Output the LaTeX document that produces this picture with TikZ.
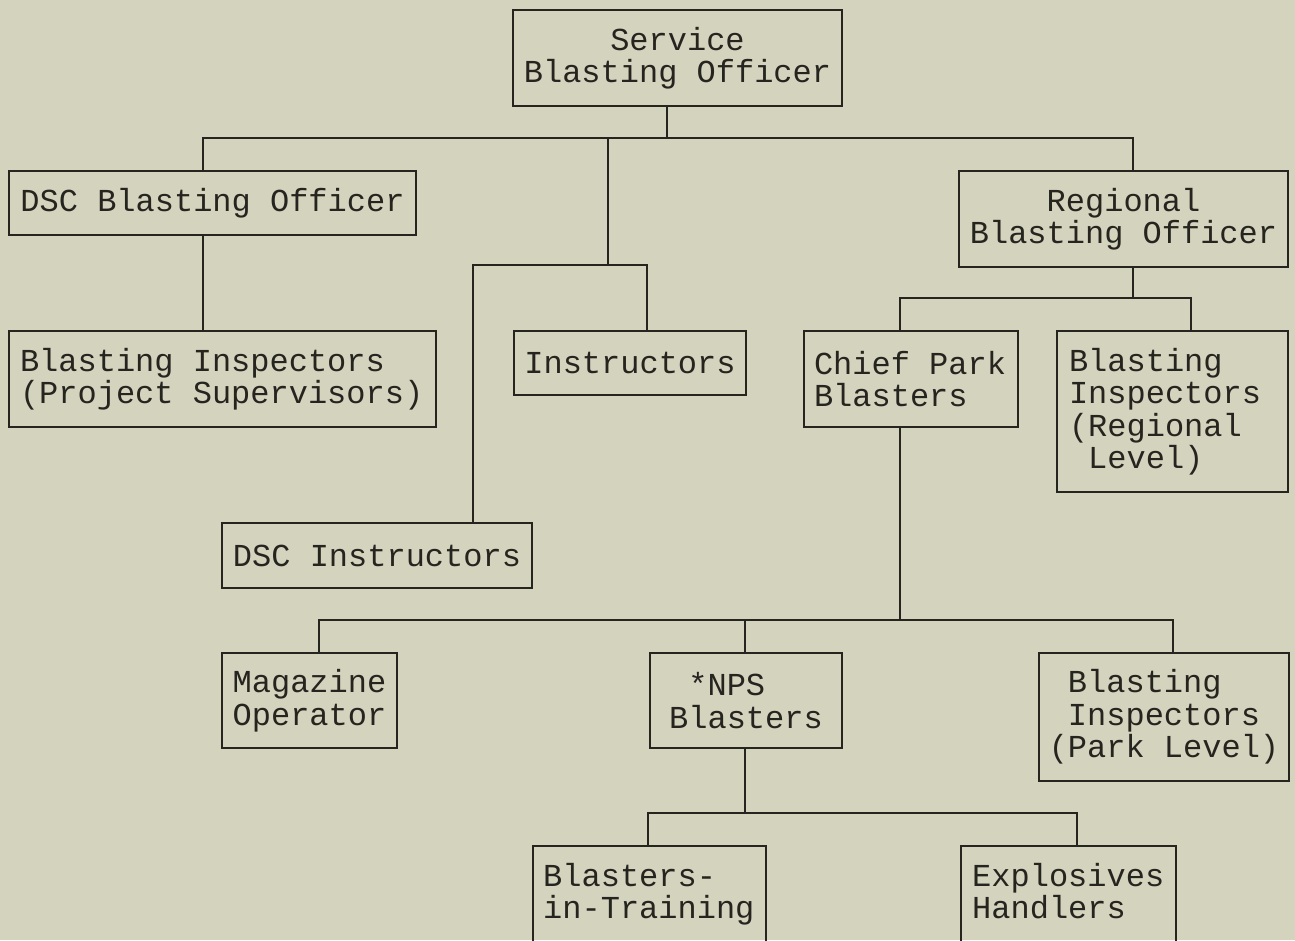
\documentclass[tikz,border=0pt]{standalone}
\usepackage{fontspec}
\newfontfamily\courierfont{Liberation Mono}
\definecolor{bgpaper}{RGB}{212,211,190}
\definecolor{ink}{RGB}{38,36,30}
\newcommand\fullspaces{\spaceskip=0pt\xspaceskip=0pt\relax}
\begin{document}
\begin{tikzpicture}[x=1pt,y=-1pt,
  box/.style={draw=ink, line width=2pt, anchor=north west, inner sep=0pt,
    font=\courierfont\fontsize{32}{32.5}\selectfont, text=ink,
    execute at begin node=\fullspaces},
  boxtext/.style={anchor=north west, inner sep=0pt,
    font=\courierfont\fontsize{32}{32.5}\selectfont, text=ink, align=left,
    execute at begin node=\fullspaces},
  link/.style={draw=ink, line width=2pt}]
\clip (0,0) rectangle (1295,940);
\fill[bgpaper] (0,0) rectangle (1295,940);

% boxes
\node[box, minimum width=329, minimum height=96, align=center] (sbo) at (512,9) {Service\\Blasting Officer};
\node[box, minimum width=407, minimum height=64] (dsc) at (8,170) {DSC Blasting Officer};
\node[box, minimum width=329, minimum height=96, align=center] (rbo) at (958,170) {Regional\\Blasting Officer};
\node[box, minimum height=96, text width=405, inner xsep=11, align=left] (bip) at (8,330) {Blasting Inspectors\\(Project Supervisors)};
\node[box, minimum width=232, minimum height=64] (ins) at (513,330) {Instructors};
\node[box, minimum height=96, text width=194, inner xsep=10, align=left] (cpb) at (803,330) {Chief Park\\Blasters};
\node[box, minimum height=161, text width=207, inner xsep=12, align=left] (bir) at (1056,330) {Blasting\\Inspectors\\(Regional\\\hphantom{(}Level)};
\node[box, minimum width=310, minimum height=65] (dsci) at (221,522) {DSC Instructors};
\node[box, minimum width=175, minimum height=95, align=left] (mag) at (221,652) {Magazine\\Operator};
\node[box, minimum width=192, minimum height=95, align=left] (nps) at (649,652) {\hphantom{B}*NPS\\Blasters};
\node[box, minimum width=250, minimum height=128, align=left] (bpl) at (1038,652) {\hphantom{(}Blasting\\\hphantom{(}Inspectors\\(Park Level)};
\node[box, minimum width=233, minimum height=130] (bit) at (532,845) {};
\node[boxtext] (bittext) at (543,863) {Blasters-\\in-Training};
\node[box, minimum width=215, minimum height=130] (ehb) at (960,845) {};
\node[boxtext] (ehbtext) at (972,863) {Explosives\\Handlers};

% junction points
\coordinate (t1) at (667,138);
\coordinate (t1L) at (203,138);
\coordinate (t1R) at (1133,138);
\coordinate (t1M) at (608,138);
\coordinate (i1) at (608,265);
\coordinate (i1L) at (473,265);
\coordinate (i1R) at (647,265);
\coordinate (r1) at (1133,298);
\coordinate (r1L) at (900,298);
\coordinate (r1R) at (1191,298);
\coordinate (p1) at (900,620);
\coordinate (p1L) at (319,620);
\coordinate (p1M) at (745,620);
\coordinate (p1R) at (1173,620);
\coordinate (n1) at (745,813);
\coordinate (n1L) at (648,813);
\coordinate (n1R) at (1077,813);

% connectors
\draw[link] (t1 |- sbo.south) -- (t1);
\draw[link] (t1L |- dsc.north) -- (t1L) -- (t1R) -- (t1R |- rbo.north);
\draw[link] (t1M) -- (i1);
\draw[link] (i1L |- dsci.north) -- (i1L) -- (i1R) -- (i1R |- ins.north);
\draw[link] (t1L |- dsc.south) -- (t1L |- bip.north);
\draw[link] (r1 |- rbo.south) -- (r1);
\draw[link] (r1L |- cpb.north) -- (r1L) -- (r1R) -- (r1R |- bir.north);
\draw[link] (p1 |- cpb.south) -- (p1);
\draw[link] (p1L |- mag.north) -- (p1L) -- (p1R) -- (p1R |- bpl.north);
\draw[link] (p1M) -- (p1M |- nps.north);
\draw[link] (n1 |- nps.south) -- (n1);
\draw[link] (n1L |- bit.north) -- (n1L) -- (n1R) -- (n1R |- ehb.north);
\end{tikzpicture}
\end{document}
